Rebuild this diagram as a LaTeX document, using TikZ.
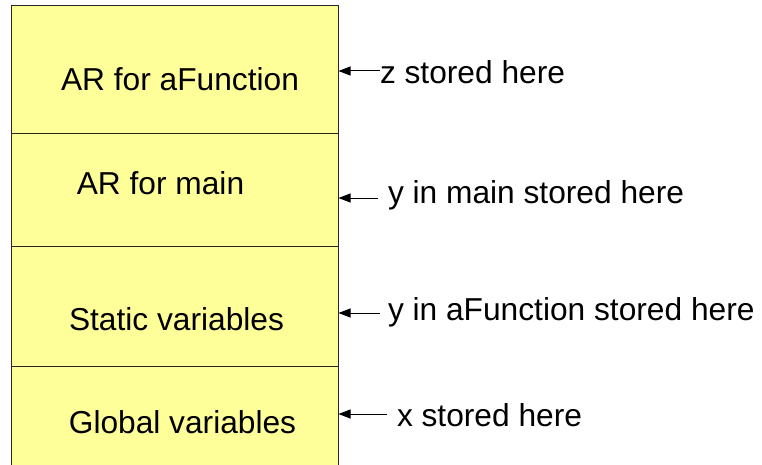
\documentclass[tikz,border=0pt]{standalone}
\usepackage{fontspec}
\setmainfont{Liberation Sans}
\usetikzlibrary{arrows.meta}
\definecolor{memfill}{HTML}{FFFF99}
\begin{document}
\begin{tikzpicture}[x=1pt,y=-1pt,
  every node/.style={inner sep=0pt,outer sep=0pt},
  txt/.style={font=\fontsize{31.7}{38}\selectfont, anchor=base},
  lbl/.style={font=\fontsize{31.7}{38}\selectfont, anchor=base west},
  cell/.style={draw=black!85, line width=1pt, fill=memfill, minimum width=327.5pt, anchor=north west},
  ptr/.style={line width=1pt, -{Triangle[length=12pt,width=9pt]}}]
\useasboundingbox (0,0) rectangle (762,465);
% memory compartments, top to bottom
\node[cell, minimum height=128pt] (ar1) at (11,6) {};
\node[cell, minimum height=112.7pt] (ar2) at (11,134) {};
\node[cell, minimum height=120pt] (stat) at (11,246.7) {};
\node[cell, minimum height=115pt] (glob) at (11,366.7) {};
% compartment titles
\node[txt] (t1) at (180,90.7) {AR for aFunction};
\node[txt] (t2) at (160.5,194) {AR for main};
\node[txt] (t3) at (176.5,330.7) {Static variables};
\node[txt] (t4) at (182.5,433) {Global variables};
% variable annotations
\node[lbl] (l1) at (380,83.3) {z stored here};
\node[lbl] (l2) at (388,203.3) {y in main stored here};
\node[lbl] (l3) at (388,320) {y in aFunction stored here};
\node[lbl] (l4) at (397,426.7) {x stored here};
% pointer tails
\coordinate (p1) at (380,71);
\coordinate (p2) at (378,198);
\coordinate (p3) at (380,313);
\coordinate (p4) at (387,414);
\draw[ptr] (p1) -- (p1 -| ar1.east);
\draw[ptr] (p2) -- (p2 -| ar2.east);
\draw[ptr] (p3) -- (p3 -| stat.east);
\draw[ptr] (p4) -- (p4 -| glob.east);
\end{tikzpicture}
\end{document}
